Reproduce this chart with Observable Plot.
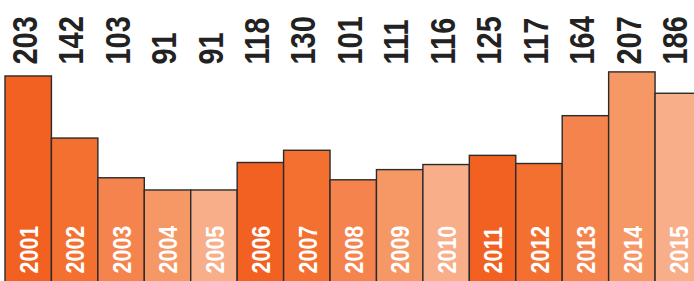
<!DOCTYPE html>
<html>
<head>
<meta charset="utf-8">
<script src="https://cdn.jsdelivr.net/npm/d3@7"></script>
<script src="https://cdn.jsdelivr.net/npm/@observablehq/plot@0.6"></script>
<style>
  html, body { margin: 0; padding: 0; background: #fff; overflow: hidden; }
  #chart svg { display: block; overflow: hidden; }
</style>
</head>
<body>
<div id="chart"></div>
<script>
const years = ["2001","2002","2003","2004","2005","2006","2007","2008","2009","2010","2011","2012","2013","2014","2015"];
const values = [203, 142, 103, 91, 91, 118, 130, 101, 111, 116, 125, 117, 164, 207, 186];
const palette = ["#F26122", "#F37030", "#F4834E", "#F69866", "#F7AE89"];

const data = years.map((year, i) => ({year, value: values[i], color: palette[i % palette.length]}));

const chart = Plot.plot({
  width: 694,
  height: 281,
  marginTop: 0, marginRight: 0, marginBottom: 0, marginLeft: 0,
  style: {fontFamily: "'Liberation Sans', Arial, sans-serif", background: "#fff"},
  x: {type: "band", domain: years, range: [5, 701.5], padding: 0, round: false, axis: null},
  y: {domain: [0, 207], range: [282.6, 71.9], axis: null},
  color: {type: "identity"},
  marks: [
    Plot.barY(data, {x: "year", y: "value", fill: "color", stroke: "#2b2b2b", strokeWidth: 1.4, inset: 0}),
    Plot.text(data, {x: "year", text: d => String(d.value), frameAnchor: "top", lineAnchor: "middle", dy: 64, dx: -3, rotate: -90, textAnchor: "start", fontSize: 29, fontWeight: "bold", fill: "#222", className: "vlab"}),
    Plot.text(data, {x: "year", text: "year", frameAnchor: "bottom", lineAnchor: "middle", dy: -8, dx: 1, rotate: -90, textAnchor: "start", fontSize: 21.5, fontWeight: "bold", fill: "#fff", className: "ylab"})
  ]
});
d3.select(chart).selectAll("g.vlab text, g.ylab text").each(function() {
  const t = this.getAttribute("transform") || "";
  this.setAttribute("transform", t + " scale(1,1.2)");
});
document.getElementById("chart").appendChild(chart);
</script>
</body>
</html>
